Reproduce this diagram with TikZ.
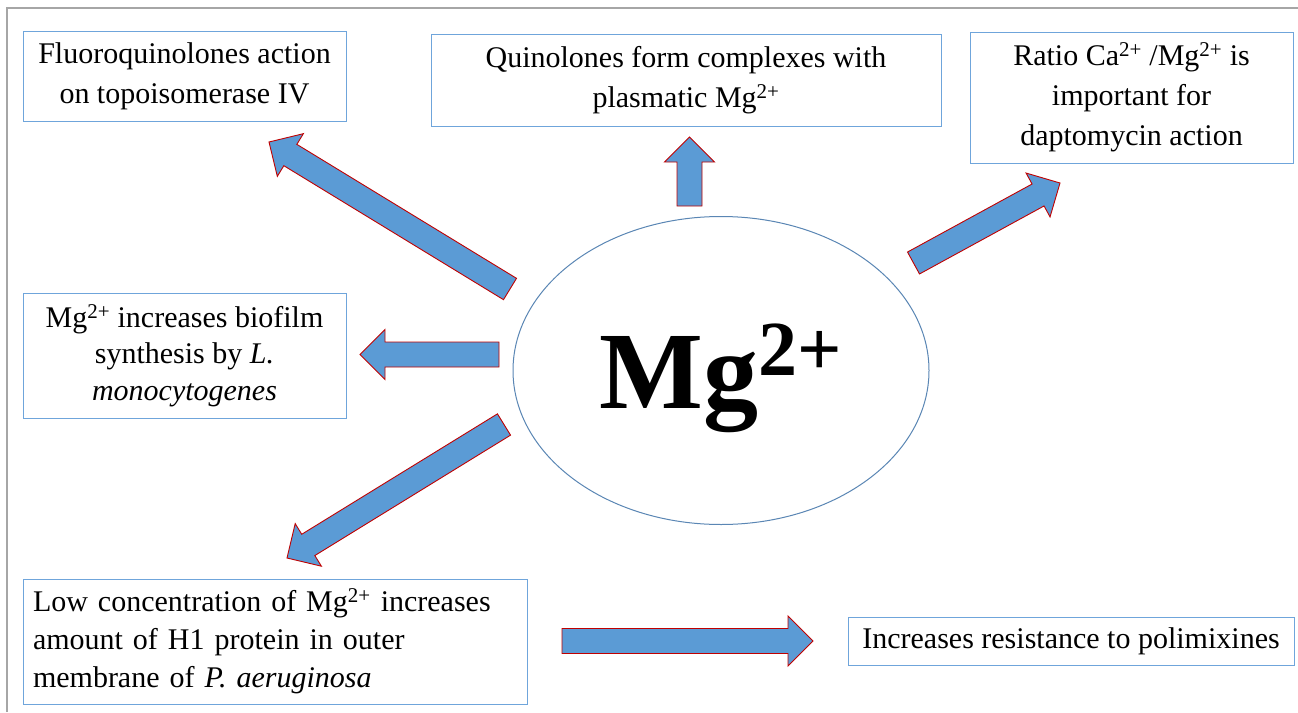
\documentclass[tikz,border=0pt]{standalone}
\usepackage{fontspec}
\setmainfont{Liberation Serif}
\usepackage{xcolor}
\usepackage{tikz}
\usetikzlibrary{calc,positioning,shapes.geometric}
\definecolor{boxline}{HTML}{6FA5DB}
\definecolor{ovalline}{HTML}{5A86B4}
\definecolor{arrowfill}{HTML}{5B9BD5}
\definecolor{arrowline}{HTML}{C00000}
\definecolor{frameline}{HTML}{A6A6A6}
\tikzset{
  textbox/.style={
    draw=boxline, line width=1pt, fill=white, align=center,
    inner sep=0pt, font=\fontsize{30}{40}\selectfont
  },
  oval/.style={ellipse, draw=ovalline, line width=1pt, fill=white, inner sep=0pt,
    text height=100pt, text depth=25pt, font=\fontsize{110}{110}\selectfont\bfseries},
  blockarrow/.style={fill=arrowfill, draw=arrowline, line width=0.9pt, line join=miter},
  frame/.style={draw=frameline, line width=1.5pt}
}
\begin{document}
\begin{tikzpicture}[x=1pt, y=-1pt]
  \useasboundingbox (0,0) rectangle (1298,712);
  \draw[frame] (7,712) -- (7,8) -- (1298,8);

  \node[oval, minimum width=416pt, minimum height=308pt] (mg) at (721,370.5) {Mg\raisebox{33pt}{\fontsize{78}{78}\selectfont 2+}};

  \node[textbox, minimum width=323pt, minimum height=90pt] (fluoro) at (184.5,76) {Fluoroquinolones action\\on topoisomerase IV};
  \node[textbox, minimum width=510pt, minimum height=92pt] (quin) at (686,80) {Quinolones form complexes with\\plasmatic Mg\textsuperscript{2+}};
  \node[textbox, minimum width=323pt, minimum height=131pt] (ratio) at (1131.5,97.5) {Ratio Ca\textsuperscript{2+} /Mg\textsuperscript{2+} is\\important for\\daptomycin action};
  \node[textbox, minimum width=323pt, minimum height=125pt, font=\fontsize{30}{36.5}\selectfont, below=171pt of fluoro] (biofilm) {Mg\textsuperscript{2+} increases biofilm\\synthesis by \textit{L.}\\\textit{monocytogenes}};
  \node[textbox, minimum width=504pt, minimum height=125pt, text width=484pt, align=left, font=\fontsize{30}{38}\selectfont] (low) at (275,641.5) {Low concentration of Mg\textsuperscript{2+} increases\\amount of H1 protein in outer\\membrane of \textit{P. aeruginosa}};
  \node[textbox, minimum width=446pt, minimum height=48pt, right=320pt of low] (resist) {Increases resistance to polimixines};

  \coordinate (tailfluoro) at (510,289);    \coordinate (tipfluoro) at (269,142);
  \coordinate (tailquin) at (689.5,206);    \coordinate (tipquin) at (689.5,137);
  \coordinate (tailratio) at (913.5,263);   \coordinate (tipratio) at (1060,183);
  \coordinate (tailbiofilm) at (499,354.5); \coordinate (tipbiofilm) at (360,354.5);
  \coordinate (taillow) at (504,424.5);     \coordinate (tiplow) at (287,558);
  \coordinate (tailresist) at (562,641);    \coordinate (tipresist) at (813,641);

  \foreach \target in {fluoro,quin,ratio,biofilm,low,resist} {
    \coordinate (head) at ($(tip\target)!25pt!(tail\target)$);
    \draw[blockarrow] ($(tail\target)!12.5pt!90:(tip\target)$) -- ($(head)!12.5pt!90:(tip\target)$)
      -- ($(head)!25pt!90:(tip\target)$) -- (tip\target) -- ($(head)!25pt!-90:(tip\target)$)
      -- ($(head)!12.5pt!-90:(tip\target)$) -- ($(tail\target)!12.5pt!-90:(tip\target)$) -- cycle;
  }
\end{tikzpicture}
\end{document}
